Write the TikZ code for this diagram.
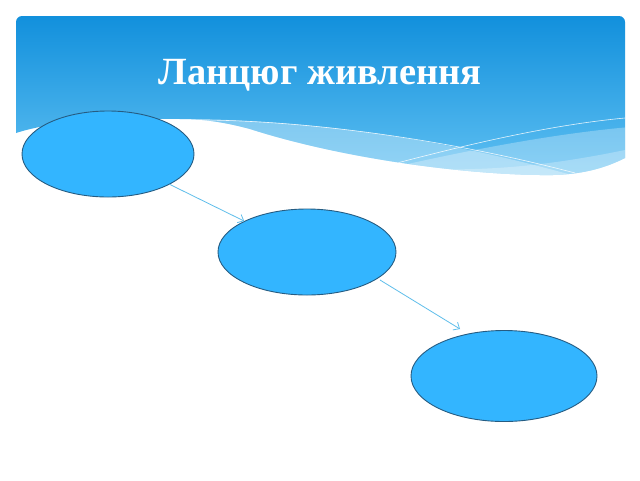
\documentclass[tikz,border=0pt]{standalone}
\usepackage{fontspec}
\setmainfont{Liberation Serif}
\usetikzlibrary{shapes.geometric,arrows.meta}
\definecolor{hdrtop}{RGB}{18,144,220}
\definecolor{hdrbot}{RGB}{95,192,242}
\definecolor{ellfill}{RGB}{51,181,255}
\definecolor{elldraw}{RGB}{38,92,130}
\definecolor{connblue}{RGB}{95,190,235}
\tikzset{
  ell/.style={ellipse, draw=elldraw, line width=0.9pt, fill=ellfill, inner sep=0pt},
  conn/.style={draw=connblue, line width=0.8pt, -{Straight Barb[length=5pt,width=9pt]}},
  titletext/.style={text=white, font=\fontsize{38.5}{46}\selectfont\bfseries, inner sep=0pt, anchor=base},
  thinline/.style={draw=white, line width=0.6pt, opacity=0.85},
}
\begin{document}
\begin{tikzpicture}[x=1pt,y=-1pt]
\useasboundingbox (0,0) rectangle (640,480);
\fill[white] (0,0) rectangle (640,480);
% header
\def\hdrpath{(16,133) -- (16,22) arc[start angle=180,end angle=270,radius=6] -- (619,16) arc[start angle=270,end angle=360,radius=6] -- (625,158) .. controls (605,168) and (580,176) .. (540,175) .. controls (460,174) and (340,158) .. (250,129) .. controls (220,121) and (200,119) .. (180,119) .. controls (100,118) and (50,122) .. (16,133) -- cycle}
\shade[top color=hdrtop, bottom color=hdrbot] \hdrpath;
\begin{scope}
  \clip \hdrpath;
  \fill[white, opacity=0.33] (185,119) .. controls (300,120) and (430,135) .. (575,176) -- (575,260) -- (150,260) -- cycle;
  \fill[white, opacity=0.28] (390,168) .. controls (460,152) and (550,134) .. (630,127) -- (630,260) -- (390,260) -- cycle;
  \fill[white, opacity=0.25] (330,160) .. controls (420,172) and (500,176) .. (625,150) -- (625,260) -- (330,260) -- cycle;
  \draw[thinline] (175,120) .. controls (300,118) and (450,140) .. (575,173);
  \draw[thinline] (397,163) .. controls (470,144) and (550,125) .. (625,118);
\end{scope}
\node[titletext] (title) at (320,84) {Ланцюг живлення};
% ellipses
\node[ell, minimum width=172pt, minimum height=86pt] (e1) at (108,154) {};
\node[ell, minimum width=178pt, minimum height=86pt] (e2) at (307,252) {};
\node[ell, minimum width=186pt, minimum height=91pt] (e3) at (504,376) {};
\coordinate (a2) at (380,280);
\coordinate (b2) at (460,329);
\draw[conn] (e1) -- (e2);
\draw[conn] (a2) -- (b2);
\end{tikzpicture}
\end{document}
